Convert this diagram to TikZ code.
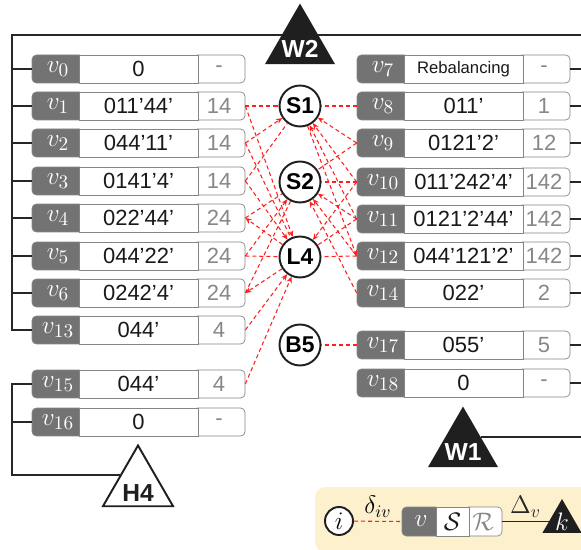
\documentclass[tikz,border=0pt]{standalone}
\usepackage{fontspec}
\setmainfont{Liberation Sans}
\usepackage{amsmath,amssymb}
\usetikzlibrary{arrows.meta,shapes.geometric,calc}
\definecolor{labgray}{HTML}{737373}
\definecolor{boxgray}{HTML}{858585}
\definecolor{tagtext}{HTML}{878787}
\definecolor{routered}{HTML}{FF1F1F}
\definecolor{legbg}{HTML}{FDF0CD}

% vehicle row: dark label | route | share
\newcommand{\vrow}[6]{%
  \node[lab] (#1) at ({#2+26},#3) {$v_{#4}$};
  \node[tag] (#1s) at ({#2+187},#3) {#6};
  \node[rte] (#1r) at ({#2+106.5},#3) {#5};
}

\begin{document}
\begin{tikzpicture}[
    x=0.02cm, y=-0.02cm,
    lab/.style={fill=labgray, draw=boxgray, rounded corners=2.5pt, inner sep=0, minimum width=1.04cm, minimum height=0.56cm, text=white, font=\fontsize{15.5}{15}\selectfont},
    rte/.style={draw=boxgray, fill=white, inner sep=0, minimum width=2.38cm, minimum height=0.56cm, text=black!90, font=\fontsize{12.5}{13}\selectfont},
    tag/.style={draw=boxgray, fill=white, rounded corners=2.5pt, inner sep=0, minimum width=1.04cm, minimum height=0.56cm, text=tagtext, font=\fontsize{12.5}{13}\selectfont},
    stn/.style={circle, draw=black!88, line width=1.1pt, fill=white, inner sep=0, minimum size=0.82cm, font=\fontsize{13}{13}\selectfont\bfseries},
    hub/.style={regular polygon, regular polygon sides=3, fill=black!88, inner sep=0, minimum size=1.62cm},
    hubtext/.style={text=white, font=\fontsize{14}{14}\selectfont\bfseries, yshift=-0.1cm},
    depot/.style={hub, fill=white, draw=black!88, line width=1.1pt},
    bus/.style={line width=1.1pt, black!85},
    link/.style={routered, dash pattern=on 2.3pt off 1.7pt, line width=0.6pt},
    arr/.style={link, -{Stealth[length=3.5pt, width=3pt]}}
]
  \useasboundingbox (0,0) rectangle (581,550);

  \coordinate (lbus) at (12,35);
  \coordinate (redge) at (581,35);

  % left fleet
  \vrow{v0}{32}{69}{0}{0}{-}
  \vrow{v1}{32}{106}{1}{011’44’}{14}
  \vrow{v2}{32}{143}{2}{044’11’}{14}
  \vrow{v3}{32}{181}{3}{0141’4’}{14}
  \vrow{v4}{32}{218}{4}{022’44’}{24}
  \vrow{v5}{32}{256}{5}{044’22’}{24}
  \vrow{v6}{32}{293}{6}{0242’4’}{24}
  \vrow{v13}{32}{330}{13}{044’}{4}
  \vrow{v15}{32}{384}{15}{044’}{4}
  \vrow{v16}{32}{422}{16}{0}{-}

  % right fleet
  \vrow{v7}{357}{69}{7}{\fontsize{9.5}{10}\selectfont Rebalancing}{-}
  \vrow{v8}{357}{106}{8}{011’}{1}
  \vrow{v9}{357}{143}{9}{0121’2’}{12}
  \vrow{v10}{357}{182}{10}{011’242’4’}{142}
  \vrow{v11}{357}{219}{11}{0121’2’44’}{142}
  \vrow{v12}{357}{256}{12}{044’121’2’}{142}
  \vrow{v14}{357}{293}{14}{022’}{2}
  \vrow{v17}{357}{345}{17}{055’}{5}
  \vrow{v18}{357}{383}{18}{0}{-}

  % stations
  \node[stn] (s1) at (300,106) {S1};
  \node[stn] (s2) at (300,182) {S2};
  \node[stn] (l4) at (300,257) {L4};
  \node[stn] (b5) at (300,345) {B5};

  % depots
  \node[depot, label={[hubtext, text=black!88, yshift=-0.04cm]center:H4}] (h4) at (138,486) {};

  % bus lines
  \draw[bus] (v13.west) -- (v13.west -| lbus) |- (redge);
  \draw[bus] (v0.west) -- (v0.west -| lbus);
  \draw[bus] (v1.west) -- (v1.west -| lbus);
  \draw[bus] (v2.west) -- (v2.west -| lbus);
  \draw[bus] (v3.west) -- (v3.west -| lbus);
  \draw[bus] (v4.west) -- (v4.west -| lbus);
  \draw[bus] (v5.west) -- (v5.west -| lbus);
  \draw[bus] (v6.west) -- (v6.west -| lbus);
  \draw[bus] (v15.west) -- (v15.west -| lbus) |- (h4.side 1);
  \draw[bus] (v16.west) -- (v16.west -| lbus);
  \draw[bus] (v7s.east) -- (v7s.east -| redge);
  \draw[bus] (v8s.east) -- (v8s.east -| redge);
  \draw[bus] (v9s.east) -- (v9s.east -| redge);
  \draw[bus] (v10s.east) -- (v10s.east -| redge);
  \draw[bus] (v11s.east) -- (v11s.east -| redge);
  \draw[bus] (v12s.east) -- (v12s.east -| redge);
  \draw[bus] (v14s.east) -- (v14s.east -| redge);
  \draw[bus] (v17s.east) -- (v17s.east -| redge);
  \draw[bus] (v18s.east) -- (v18s.east -| redge);

  \node[hub, label={[hubtext]center:W2}] (w2) at (300,44) {};
  \node[hub, label={[hubtext]center:W1}] (w1) at (463,447) {};
  \draw[bus] (w1.side 3) -- (w1.side 3 -| redge);

  % routes, left side
  \draw[link] (v1s.east) -- (s1);
  \draw[arr] (v1s.east) -- (l4);
  \draw[link] (v2s.east) -- (l4);
  \draw[arr] (v2s.east) -- (s1);
  \draw[link] (v3s.east) -- (s1);
  \draw[arr] (v3s.east) -- (l4);
  \draw[link] (v4s.east) -- (s2);
  \draw[arr] (l4) -- (v4s.east);
  \draw[link] (v5s.east) -- (l4);
  \draw[arr] (v5s.east) -- (s2);
  \draw[link] (v6s.east) -- (s2);
  \draw[arr] (l4) -- (v6s.east);
  \draw[arr] (v13s.east) -- (l4);
  \draw[arr] (v15s.east) -- (l4);

  % routes, right side
  \draw[link] (v8.west) -- (s1);
  \draw[arr] (v9.west) -- (s1);
  \draw[link] (v9.west) -- (s2);
  \draw[arr] (v10.west) -- (s1);
  \draw[link] (v10.west) -- (s2);
  \draw[arr] (v10.west) -- (l4);
  \draw[arr] (v11.west) -- (s1);
  \draw[arr] (v11.west) -- (s2);
  \draw[link] (v11.west) -- (l4);
  \draw[link] (v12.west) -- (l4);
  \draw[arr] (s1) -- (v12.west);
  \draw[arr] (v12.west) -- (s2);
  \draw[arr] (v14.west) -- (s2);
  \draw[link] (v17.west) -- (b5);

  % legend
  \fill[legbg, rounded corners=6pt] (315,487) rectangle (600,552);
  \node[stn, minimum size=0.56cm, font=\fontsize{14}{14}\selectfont] (li) at (339,521) {$i$};
  \node[lab, minimum width=0.76cm, minimum height=0.58cm] (lv) at (421,521.5) {$v$};
  \node[tag, minimum width=0.76cm, minimum height=0.58cm, font=\fontsize{14}{14}\selectfont] (lr) at (483,521.5) {$\mathcal{R}$};
  \node[rte, minimum width=0.66cm, minimum height=0.58cm, font=\fontsize{14}{14}\selectfont] (ls) at (452.5,521.5) {$\mathcal{S}$};
  \node[hub, minimum size=0.9cm, label={[text=white, font=\fontsize{14}{14}\selectfont]center:$k$}] (kk) at (562,521.5) {};
  \draw[link] (li) -- node[above, inner sep=2pt, text=black, font=\fontsize{14}{14}\selectfont] (dl) {$\delta_{iv}$} (lv.west);
  \draw[bus, line width=0.9pt] (lr.east) -- node[above, inner sep=2pt, font=\fontsize{14}{14}\selectfont] (dv) {$\Delta_v$} (kk);
\end{tikzpicture}
\end{document}
